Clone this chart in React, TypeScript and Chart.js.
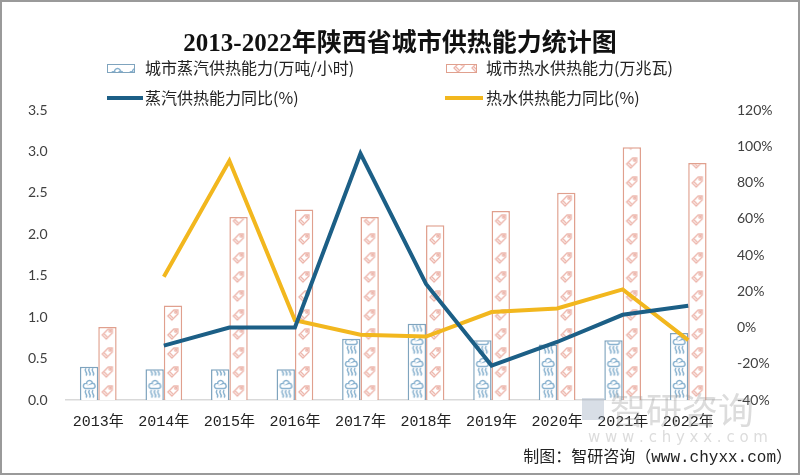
import React, { useEffect, useRef } from "react";
import { Chart, registerables } from "chart.js";

Chart.register(...registerables);

const categories = ["2013年", "2014年", "2015年", "2016年", "2017年", "2018年", "2019年", "2020年", "2021年", "2022年"];
const steamCapacity = [0.4, 0.37, 0.37, 0.37, 0.74, 0.92, 0.72, 0.67, 0.72, 0.81];
const hotWaterCapacity = [0.88, 1.14, 2.21, 2.3, 2.21, 2.11, 2.28, 2.5, 3.05, 2.86];
const steamYoY = [null, -10, 0, 0, 96, 24, -21, -8, 7, 12];
const hotWaterYoY = [null, 28, 92, 4, -4, -5, 8.5, 10.5, 21, -7];

const TITLE = "2013-2022年陕西省城市供热能力统计图";
const LEGEND_STEAM = "城市蒸汽供热能力(万吨/小时)";
const LEGEND_HOT = "城市热水供热能力(万兆瓦)";
const LEGEND_STEAM_YOY = "蒸汽供热能力同比(%)";
const LEGEND_HOT_YOY = "热水供热能力同比(%)";
const FOOTER = "制图：智研咨询（www.chyxx.com）";

const BLUE = "#1c5f86";
const YELLOW = "#f2b71e";
const STEAM_BORDER = "#7fa4be";
const HOT_BORDER = "#e0a08e";

function makeSteamTile(): HTMLCanvasElement {
  const c = document.createElement("canvas");
  c.width = 18;
  c.height = 22;
  const g = c.getContext("2d")!;
  g.fillStyle = "#ffffff";
  g.fillRect(0, 0, 18, 22);
  g.strokeStyle = "#86b0ce";
  g.lineWidth = 1.4;
  g.beginPath();
  g.arc(6, 8, 2.6, Math.PI * 0.6, Math.PI * 1.6);
  g.arc(9.5, 5.5, 3, Math.PI * 1.1, Math.PI * 1.95);
  g.arc(12.5, 8, 2.6, Math.PI * 1.4, Math.PI * 0.4);
  g.closePath();
  g.stroke();
  for (const x of [6, 9.5, 13]) {
    g.beginPath();
    g.moveTo(x, 12);
    g.quadraticCurveTo(x - 1.5, 14, x, 16);
    g.quadraticCurveTo(x + 1.5, 18, x, 19.5);
    g.stroke();
  }
  return c;
}

function makeHotTile(): HTMLCanvasElement {
  const c = document.createElement("canvas");
  c.width = 18;
  c.height = 19;
  const g = c.getContext("2d")!;
  g.fillStyle = "#ffffff";
  g.fillRect(0, 0, 18, 19);
  g.strokeStyle = "#edb5ab";
  g.lineWidth = 1.3;
  g.beginPath();
  g.moveTo(4, 11);
  g.lineTo(10, 5);
  g.lineTo(14, 5);
  g.lineTo(14, 9);
  g.lineTo(8, 15);
  g.closePath();
  g.stroke();
  g.beginPath();
  g.arc(11.8, 7.2, 1, 0, Math.PI * 2);
  g.stroke();
  g.beginPath();
  g.moveTo(6, 10);
  g.lineTo(9, 13);
  g.stroke();
  return c;
}

export default function App() {
  const canvasRef = useRef<HTMLCanvasElement | null>(null);

  useEffect(() => {
    document.body.style.margin = "0";
    const canvas = canvasRef.current!;
    const ctx = canvas.getContext("2d")!;
    const steamTile = makeSteamTile();
    const hotTile = makeHotTile();
    const steamPatternBase = ctx.createPattern(steamTile, "repeat")!;
    const hotPatternBase = ctx.createPattern(hotTile, "repeat")!;

    const patternFor = (tile: HTMLCanvasElement, chart: any, index: number, shift: number) => {
      const p = ctx.createPattern(tile, "repeat")!;
      const xs = chart.scales && chart.scales.x;
      if (xs && xs.width) {
        const cw = xs.width / categories.length;
        const center = xs.getPixelForValue(index);
        const left = center + shift * cw * 0.28;
        p.setTransform(new DOMMatrix().translate(left, 400));
      }
      return p;
    };

    const decorPlugin = {
      id: "decor",
      afterDraw(chart: any) {
        const c = chart.ctx;
        c.save();
        // title
        c.fillStyle = "#111";
        c.font = "bold 25px 'Liberation Serif', 'Noto Sans CJK SC'";
        c.textAlign = "center";
        c.textBaseline = "middle";
        c.fillText(TITLE, 400, 45);

        // legend
        c.font = "16px 'Noto Sans CJK SC'";
        c.textAlign = "left";
        // steam box
        c.fillStyle = steamPatternBase;
        c.fillRect(107, 64, 27, 8);
        c.strokeStyle = STEAM_BORDER;
        c.lineWidth = 1;
        c.strokeRect(107.5, 64.5, 27, 8);
        // hot box
        c.fillStyle = hotPatternBase;
        c.fillRect(446, 64, 30, 8);
        c.strokeStyle = HOT_BORDER;
        c.strokeRect(446.5, 64.5, 30, 8);
        c.fillStyle = "#222";
        c.fillText(LEGEND_STEAM, 145, 68);
        c.fillText(LEGEND_HOT, 486, 68);
        // line legends
        c.lineWidth = 4;
        c.strokeStyle = BLUE;
        c.beginPath();
        c.moveTo(107, 98);
        c.lineTo(143, 98);
        c.stroke();
        c.strokeStyle = YELLOW;
        c.beginPath();
        c.moveTo(445, 98);
        c.lineTo(483, 98);
        c.stroke();
        c.fillText(LEGEND_STEAM_YOY, 145, 98);
        c.fillText(LEGEND_HOT_YOY, 486, 98);

        // watermark
        c.globalAlpha = 0.35;
        c.fillStyle = "#8fa0b8";
        c.fillRect(582, 398, 22, 22);
        c.fillStyle = "#9a9a9a";
        c.font = "36px 'Noto Sans CJK SC'";
        c.textAlign = "left";
        c.fillText("智研咨询", 610, 410);
        c.font = "15px 'DejaVu Sans'";
        c.fillText("w w w . c h y x x . c o m", 588, 438);
        c.globalAlpha = 1;

        // footer
        c.fillStyle = "#222";
        c.font = "16px 'Liberation Mono', 'Noto Sans CJK SC'";
        c.textAlign = "right";
        c.fillText(FOOTER, 792, 458);

        // border
        c.strokeStyle = "#9a9a9a";
        c.lineWidth = 2;
        c.strokeRect(1, 1, 798, 473);
        c.restore();
      },
    };

    const chart = new Chart(ctx, {
      type: "bar",
      data: {
        labels: categories,
        datasets: [
          {
            type: "line",
            label: LEGEND_STEAM_YOY,
            data: steamYoY,
            yAxisID: "y1",
            borderColor: BLUE,
            borderWidth: 4,
            pointRadius: 0,
            tension: 0,
            order: 0,
          } as any,
          {
            type: "line",
            label: LEGEND_HOT_YOY,
            data: hotWaterYoY,
            yAxisID: "y1",
            borderColor: YELLOW,
            borderWidth: 4,
            pointRadius: 0,
            tension: 0,
            order: 0,
          } as any,
          {
            type: "bar",
            label: LEGEND_STEAM,
            data: steamCapacity,
            yAxisID: "y",
            backgroundColor: (context: any) => patternFor(steamTile, context.chart, context.dataIndex, -1),
            borderColor: STEAM_BORDER,
            borderWidth: 1.5,
            barPercentage: 1,
            categoryPercentage: 0.56,
            order: 1,
          } as any,
          {
            type: "bar",
            label: LEGEND_HOT,
            data: hotWaterCapacity,
            yAxisID: "y",
            backgroundColor: (context: any) => patternFor(hotTile, context.chart, context.dataIndex, 0),
            borderColor: HOT_BORDER,
            borderWidth: 1.5,
            barPercentage: 1,
            categoryPercentage: 0.56,
            order: 1,
          } as any,
        ],
      },
      options: {
        animation: false,
        responsive: false,
        maintainAspectRatio: false,
        layout: { padding: { top: 110, left: 0, right: 0, bottom: 0 } },
        plugins: {
          legend: { display: false },
          title: { display: false },
          tooltip: { enabled: false },
        },
        scales: {
          x: {
            grid: { display: false, drawTicks: false },
            border: { display: true, color: "#d9d9d9", width: 1.5 },
            ticks: {
              color: "#222",
              padding: 13,
              font: { family: "'Liberation Mono', 'Noto Sans CJK SC'", size: 15 },
              maxRotation: 0,
              autoSkip: false,
            },
            afterFit: (s: any) => {
              s.height = 75;
            },
          },
          y: {
            position: "left",
            min: 0,
            max: 3.5,
            grid: { display: false, drawTicks: false },
            border: { display: false },
            ticks: {
              stepSize: 0.5,
              padding: 18,
              color: "#404040",
              font: { family: "Lato, 'Liberation Sans'", size: 14 },
              callback: (v: any) => Number(v).toFixed(1),
            },
            afterFit: (s: any) => {
              s.width = 65.5;
            },
          },
          y1: {
            position: "right",
            min: -40,
            max: 120,
            grid: { display: false, drawTicks: false },
            border: { display: false },
            ticks: {
              stepSize: 20,
              padding: 16,
              color: "#404040",
              font: { family: "Lato, 'Liberation Sans'", size: 14 },
              callback: (v: any) => `${v}%`,
            },
            afterFit: (s: any) => {
              s.width = 79;
            },
          },
        },
      },
      plugins: [decorPlugin],
    });

    return () => {
      chart.destroy();
    };
  }, []);

  return (
    <div style={{ position: "absolute", left: 0, top: 0, width: 800, height: 475, background: "#fff" }}>
      <canvas ref={canvasRef} width={800} height={475} style={{ width: 800, height: 475, display: "block" }} />
    </div>
  );
}
